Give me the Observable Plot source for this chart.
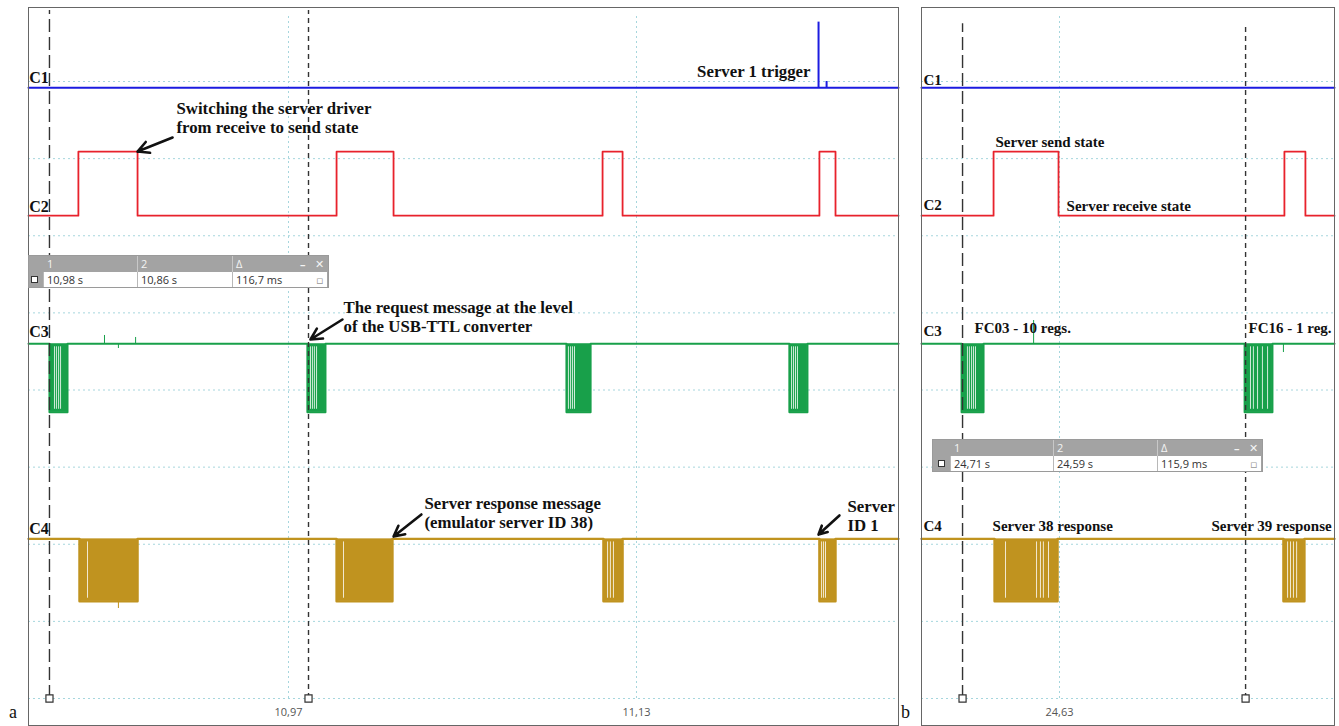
<!DOCTYPE html>
<html><head><meta charset="utf-8">
<script src="https://cdn.jsdelivr.net/npm/d3@7"></script>
<script src="https://cdn.jsdelivr.net/npm/@observablehq/plot@0.6"></script>
<style>
body{margin:0;background:#fff;}
#root{position:relative;width:1339px;height:726px;overflow:hidden;background:#fff;}
#root svg{position:absolute;}
.plabel{position:absolute;font-family:"Liberation Serif",serif;font-size:18px;color:#111;}
.cbox{position:absolute;background:#a3a3a3;border:1px solid #9a9a9a;box-sizing:border-box;font-family:"Open Sans","DejaVu Sans",sans-serif;font-size:11px;}
.cbox .h{position:absolute;top:0;color:#f4f4f4;font-size:11px;line-height:15px;}
.cbox .cell{position:absolute;background:#fff;border-left:1px solid #b8b8b8;box-sizing:border-box;color:#333;line-height:15px;padding-left:3px;}
.cbox .sep{position:absolute;top:0;width:1px;background:#c8c8c8;}
.cbox .icon{position:absolute;width:5px;height:5px;border:1px solid #333;background:#fff;}
</style></head><body><div id="root"></div>
<script>
// ---------------- data (time in s, level in screen divisions) ----------------
const gridDivs = [-4, -3, -2, -1, 0, 1, 2, 3, 4];
const channelNames = ["C1", "C2", "C3", "C4"];
// idle and active levels of each channel
const idleLevel   = [3.92, 2.26, 0.60, -1.93];
const activeLevel = [4.77, 3.09, -0.29, -2.74];

// ---- panel a ----
const ticksA = [10.97, 11.13];
const tickLabelsA = ["10,97", "11,13"];
const cursorsA = [10.8601, 10.9792];
const readoutA = ["10,98 s", "10,86 s", "116,7 ms"];
const c1SpikeTimeA = [11.2137, 11.2174];
const c1SpikeTopA = [4.77, 4.0];
const c2StartA = [10.8734, 10.9921, 11.1144, 11.2141];
const c2EndA   = [10.9006, 11.0183, 11.1236, 11.2215];
const c3StartA = [10.8601, 10.9787, 11.0978, 11.2003];
const c3EndA   = [10.8684, 10.9870, 11.1089, 11.2086];
const c3GapsA  = [10.8624, 10.8633, 10.8643, 10.8652, 10.9801, 10.9810, 10.9819, 10.9829,
                  11.0987, 11.0997, 11.1006, 11.1015, 11.2013, 11.2022, 11.2031, 11.2040];
const c3SpikeTimeA = [10.8854, 10.8918, 10.8997];
const c3SpikeTipA  = [0.707, 0.538, 0.681];
const c4StartA = [10.8739, 10.9921, 11.1148, 11.2141];
const c4EndA   = [10.9006, 11.0178, 11.1236, 11.2215];
const c4GapsA  = [10.8776, 10.9953, 11.1167, 11.1180, 11.1194, 11.2151, 11.2160, 11.2169];
const c4SpikeTimeA = [10.8918];
const c4SpikeTipA  = [-2.833];

// ---- panel b ----
const ticksB = [24.63];
const tickLabelsB = ["24,63"];
const cursorsB = [24.5903, 24.7062];
const readoutB = ["24,71 s", "24,59 s", "115,9 ms"];
const c2StartB = [24.6030, 24.7221];
const c2EndB   = [24.6296, 24.7307];
const c3StartB = [24.5899, 24.7058];
const c3EndB   = [24.5989, 24.7172];
const c3GapsB  = [24.5923, 24.5931, 24.5940, 24.5948, 24.5956, 24.7082, 24.7094, 24.7111, 24.7131, 24.7152];
const c3SpikeTimeB = [24.6194, 24.7217];
const c3SpikeTipB  = [0.901, 0.486];
const c4StartB = [24.6034, 24.7217];
const c4EndB   = [24.6292, 24.7303];
const c4GapsB  = [24.6079, 24.6206, 24.6222, 24.6234, 24.6255, 24.7234, 24.7246, 24.7258, 24.7271];

// annotations
const notesTextA = ["Server 1 trigger", "Switching the server driver\nfrom receive to send state",
  "The request message at the level\nof the USB-TTL converter", "Server response message\n(emulator server ID 38)", "Server\nID 1"];
const notesTA = [11.2100, 10.9185, 10.9953, 11.0325, 11.2270];
const notesYA = [4.13, 3.53, 0.95, -1.59, -1.63];
const notesAnchorA = ["end", "start", "start", "start", "start"];
const arrowsA = {t1: [10.9167, 10.9948, 11.0311, 11.2233], y1: [3.274, 0.914, -1.614, -1.627],
                 t2: [10.9006, 10.9801, 11.0183, 11.2137], y2: [3.092, 0.655, -1.900, -1.874]};
const notesTextB = ["Server send state", "Server receive state", "FC03 - 10 regs.", "FC16 - 1 reg.",
  "Server 38 response", "Server 39 response"];
const notesTB = [24.6038, 24.6329, 24.5952, 24.7074, 24.6026, 24.6922];
const notesYB = [3.22, 2.39, 0.80, 0.80, -1.76, -1.76];
const chanLabelYA = [4.045, 2.38, 0.75, -1.80];
const chanLabelYB = [4.013, 2.39, 0.76, -1.76];

// ---------------- drawing ----------------
const colors = ["#1c1ce0", "#e8222c", "#18a04a", "#c0931f"];
const gridColor = "#a6d6dd";
const yDomain = [-4.350, 4.9595];

function stepLine(base, active, starts, ends, x0, x1) {
  const pts = [{t: x0, v: base}];
  starts.forEach((s, i) => {
    pts.push({t: s, v: base}, {t: s, v: active}, {t: ends[i], v: active}, {t: ends[i], v: base});
  });
  pts.push({t: x1, v: base});
  return pts;
}

function burstMarks(ch, starts, ends, gaps) {
  const lo = activeLevel[ch], hi = idleLevel[ch];
  return [
    Plot.rect(starts.map((s, i) => i), {x1: i => starts[i], x2: i => ends[i], y1: lo, y2: hi, fill: colors[ch]}),
    Plot.ruleX(gaps, {x: d => d, y1: lo + 0.04, y2: hi - 0.04, stroke: "white", strokeWidth: 1, strokeOpacity: 0.8})
  ];
}

function panel(P) {
  const [x0, x1] = P.xDomain;
  const serif = {fontFamily: "Liberation Serif, serif", fontWeight: "bold", fill: "#111"};
  const idx = P.notesText.map((d, i) => i);
  const marks = [
    Plot.ruleY(gridDivs, {stroke: gridColor, strokeDasharray: "2,3", strokeWidth: 1}),
    Plot.ruleX(P.ticks, {x: d => d, y1: -4, y2: 4.88, stroke: gridColor, strokeDasharray: "2,3"}),
    Plot.text(P.ticks, {x: d => d, y: -4.18, text: (d, i) => P.tickLabels[i], fontFamily: "Open Sans, DejaVu Sans, sans-serif", fontSize: 11, fill: "#555"}),
    // C1
    Plot.line([{t: x0, v: idleLevel[0]}, {t: x1, v: idleLevel[0]}], {x: "t", y: "v", stroke: colors[0], strokeWidth: 2}),
    Plot.ruleX(P.c1SpikeTime, {x: d => d, y1: idleLevel[0], y2: (d, i) => P.c1SpikeTop[i], stroke: colors[0], strokeWidth: 2}),
    // C2
    Plot.line(stepLine(idleLevel[1], activeLevel[1], P.c2Start, P.c2End, x0, x1), {x: "t", y: "v", stroke: colors[1], strokeWidth: 1.8}),
    // C3
    Plot.line(stepLine(idleLevel[2], activeLevel[2], P.c3Start, P.c3End, x0, x1), {x: "t", y: "v", stroke: colors[2], strokeWidth: 2}),
    ...burstMarks(2, P.c3Start, P.c3End, P.c3Gaps),
    Plot.ruleX(P.c3SpikeTime, {x: d => d, y1: idleLevel[2], y2: (d, i) => P.c3SpikeTip[i], stroke: colors[2], strokeWidth: 1}),
    // C4
    Plot.line(stepLine(idleLevel[3], activeLevel[3], P.c4Start, P.c4End, x0, x1), {x: "t", y: "v", stroke: colors[3], strokeWidth: 2.4}),
    ...burstMarks(3, P.c4Start, P.c4End, P.c4Gaps),
    Plot.ruleX(P.c4SpikeTime, {x: d => d, y1: activeLevel[3], y2: (d, i) => P.c4SpikeTip[i], stroke: colors[3], strokeWidth: 1}),
    // cursors
    Plot.ruleX([P.cursors[0]], {x: d => d, y1: -4, y2: P.cursorTop, stroke: "#333", strokeWidth: 1.4, strokeDasharray: "13,5"}),
    Plot.ruleX([P.cursors[1]], {x: d => d, y1: -4, y2: P.cursorTop, stroke: "#333", strokeWidth: 1.4, strokeDasharray: "5,4"}),
    Plot.dot(P.cursors, {x: d => d, y: -4, symbol: "square", r: 4, fill: "white", stroke: "#333", strokeWidth: 1.2}),
    // channel labels
    Plot.text(channelNames, {x: P.labelT, y: (d, i) => P.chanLabelY[i], text: d => d, textAnchor: "start", fontSize: P.fsLabel, ...serif}),
    // annotations, split by anchor
    Plot.text(idx.filter(i => P.notesAnchor[i] === "start"), {x: i => P.notesT[i], y: i => P.notesY[i], text: i => P.notesText[i],
      textAnchor: "start", fontSize: P.fs, lineHeight: 1.08, ...serif}),
    Plot.text(idx.filter(i => P.notesAnchor[i] === "end"), {x: i => P.notesT[i], y: i => P.notesY[i], text: i => P.notesText[i],
      textAnchor: "end", fontSize: P.fs, lineHeight: 1.08, ...serif}),
    Plot.frame({stroke: "#666", strokeWidth: 1})
  ];
  if (P.arrows) {
    marks.push(Plot.arrow(P.arrows.t1.map((d, i) => i), {
      x1: i => P.arrows.t1[i], y1: i => P.arrows.y1[i], x2: i => P.arrows.t2[i], y2: i => P.arrows.y2[i],
      stroke: "#111", strokeWidth: 2.6, headLength: 9, headAngle: 55}));
  }
  const svg = Plot.plot({
    width: P.width, height: 720,
    marginTop: 1, marginBottom: 1, marginLeft: 1, marginRight: 1,
    x: {domain: P.xDomain, axis: null},
    y: {domain: yDomain, axis: null},
    style: {background: "transparent", overflow: "visible"},
    marks
  });
  svg.style.left = P.left + "px";
  svg.style.top = "6px";
  return svg;
}

const root = document.getElementById("root");
root.appendChild(panel({
  left: 27, width: 872, xDomain: [10.85046, 11.25046], fs: 16.8, fsLabel: 16,
  ticks: ticksA, tickLabels: tickLabelsA, cursors: cursorsA, cursorTop: 4.92,
  c1SpikeTime: c1SpikeTimeA, c1SpikeTop: c1SpikeTopA,
  c2Start: c2StartA, c2End: c2EndA,
  c3Start: c3StartA, c3End: c3EndA, c3Gaps: c3GapsA, c3SpikeTime: c3SpikeTimeA, c3SpikeTip: c3SpikeTipA,
  c4Start: c4StartA, c4End: c4EndA, c4Gaps: c4GapsA, c4SpikeTime: c4SpikeTimeA, c4SpikeTip: c4SpikeTipA,
  labelT: 10.8508, chanLabelY: chanLabelYA,
  notesText: notesTextA, notesT: notesTA, notesY: notesYA, notesAnchor: notesAnchorA, arrows: arrowsA
}));
root.appendChild(panel({
  left: 920, width: 415, xDomain: [24.57349, 24.74261], fs: 15, fsLabel: 15,
  ticks: ticksB, tickLabels: tickLabelsB, cursors: cursorsB, cursorTop: 4.75,
  c1SpikeTime: [], c1SpikeTop: [],
  c2Start: c2StartB, c2End: c2EndB,
  c3Start: c3StartB, c3End: c3EndB, c3Gaps: c3GapsB, c3SpikeTime: c3SpikeTimeB, c3SpikeTip: c3SpikeTipB,
  c4Start: c4StartB, c4End: c4EndB, c4Gaps: c4GapsB, c4SpikeTime: [], c4SpikeTip: [],
  labelT: 24.5743, chanLabelY: chanLabelYB,
  notesText: notesTextB, notesT: notesTB, notesY: notesYB, notesAnchor: notesTextB.map(() => "start"), arrows: null
}));

// cursor readout boxes
function cursorBox(left, top, width, cols, vals) {
  const box = document.createElement("div");
  box.className = "cbox";
  Object.assign(box.style, {left: left + "px", top: top + "px", width: width + "px", height: "33px"});
  const heads = ["1", "2", "\u0394"];
  cols.forEach((c, i) => {
    const h = document.createElement("div"); h.className = "h"; h.textContent = heads[i];
    h.style.left = (c - left + 3) + "px"; box.appendChild(h);
    const cell = document.createElement("div"); cell.className = "cell"; cell.textContent = vals[i];
    const w = (i < 2 ? cols[i + 1] : left + width - 2) - c;
    Object.assign(cell.style, {left: (c - left - 1) + "px", top: "16px", width: w + "px", height: "15px"});
    box.appendChild(cell);
    if (i > 0) { const s = document.createElement("div"); s.className = "sep";
      Object.assign(s.style, {left: (c - left - 1) + "px", height: "16px"}); box.appendChild(s); }
  });
  const mn = document.createElement("div"); mn.className = "h"; mn.textContent = "\u2013";
  mn.style.left = (width - 30) + "px"; mn.style.fontWeight = "bold"; box.appendChild(mn);
  const x = document.createElement("div"); x.className = "h"; x.textContent = "\u2715";
  x.style.left = (width - 15) + "px"; x.style.fontWeight = "bold"; box.appendChild(x);
  const lock = document.createElement("div"); lock.className = "h"; lock.textContent = "\u25AB";
  Object.assign(lock.style, {left: (width - 14) + "px", top: "16px", color: "#999"}); box.appendChild(lock);
  const ic = document.createElement("div"); ic.className = "icon";
  Object.assign(ic.style, {left: (cols[0] - left - 13) + "px", top: "20px"}); box.appendChild(ic);
  root.appendChild(box);
}
cursorBox(28, 255, 301, [43, 137, 232], readoutA);
cursorBox(932, 439, 331, [950, 1053, 1157], readoutB);

// panel letters
[["a", 9, 702], ["b", 901, 702]].forEach(([t, l, tp]) => {
  const d = document.createElement("div"); d.className = "plabel"; d.textContent = t;
  d.style.left = l + "px"; d.style.top = tp + "px"; root.appendChild(d);
});
</script></body></html>
